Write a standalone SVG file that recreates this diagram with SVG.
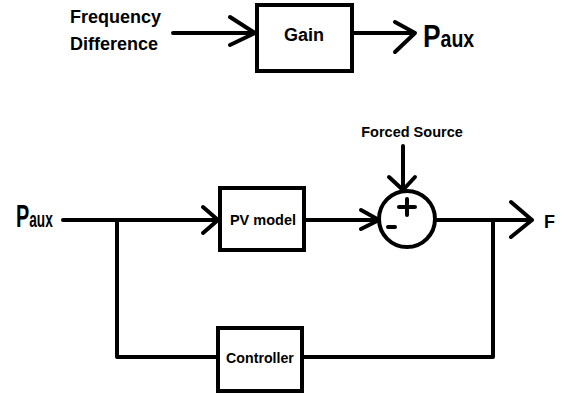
<svg xmlns="http://www.w3.org/2000/svg" width="567" height="397" viewBox="0 0 567 397">
<style>
.ln{fill:none;stroke:#000;stroke-width:4;stroke-linecap:round;stroke-linejoin:round}
.bx{fill:#fff;stroke:#000;stroke-width:4}
.t{font-family:"Liberation Sans",Arial,sans-serif;font-weight:bold;fill:#000}
</style>
<rect width="567" height="397" fill="#fff"/>
<g id="connectors">
<path class="ln" d="M173,33 H255 M230,17 L255,33 L230,45"/>
<path class="ln" d="M353,33 H415 M395,22 L415,33 L395,52"/>
<path class="ln" d="M63,220 H218 M203,207 L218,220 L203,233"/>
<path class="ln" d="M305,220 H379 M361,210 L379,220 L361,229"/>
<path class="ln" d="M403,146 V190 M389,177 L403,190 L415,177"/>
<path class="ln" d="M435,220 H532 M511,202 L532,220 L511,237"/>
<path class="ln" d="M117,220 V357 H216"/>
<path class="ln" d="M493,220 V357 H303"/>
</g>
<g id="freq-label">
<text class="t" x="70" y="23" font-size="18">Frequency</text>
<text class="t" x="70" y="50" font-size="18">Difference</text>
</g>
<g id="gain">
<rect class="bx" x="257" y="5" width="95" height="66"/>
<text class="t" x="304" y="41" font-size="18" text-anchor="middle">Gain</text>
</g>
<g id="paux-top">
<text class="t" font-size="31" transform="translate(423,47) scale(0.85,1)">P<tspan font-size="23">aux</tspan></text>
</g>
<g id="paux-bottom">
<text class="t" font-size="32" transform="translate(16,227) scale(0.62,1)">P<tspan font-size="22">aux</tspan></text>
</g>
<g id="pv-model">
<rect class="bx" x="220" y="188" width="84" height="62"/>
<text class="t" x="263" y="225" font-size="14.5" text-anchor="middle">PV model</text>
</g>
<g id="sum">
<circle cx="407" cy="219" r="28" fill="#fff" stroke="#000" stroke-width="4"/>
<path class="ln" d="M399,207 H415 M407,199 V215 M388,227 H395"/>
</g>
<g id="forced-source">
<text class="t" x="412" y="137" font-size="14.5" text-anchor="middle">Forced Source</text>
</g>
<g id="f-label">
<text class="t" x="544" y="228" font-size="18">F</text>
</g>
<g id="controller">
<rect class="bx" x="218" y="328" width="84" height="63"/>
<text class="t" x="260" y="363" font-size="14.2" text-anchor="middle">Controller</text>
</g>
</svg>
